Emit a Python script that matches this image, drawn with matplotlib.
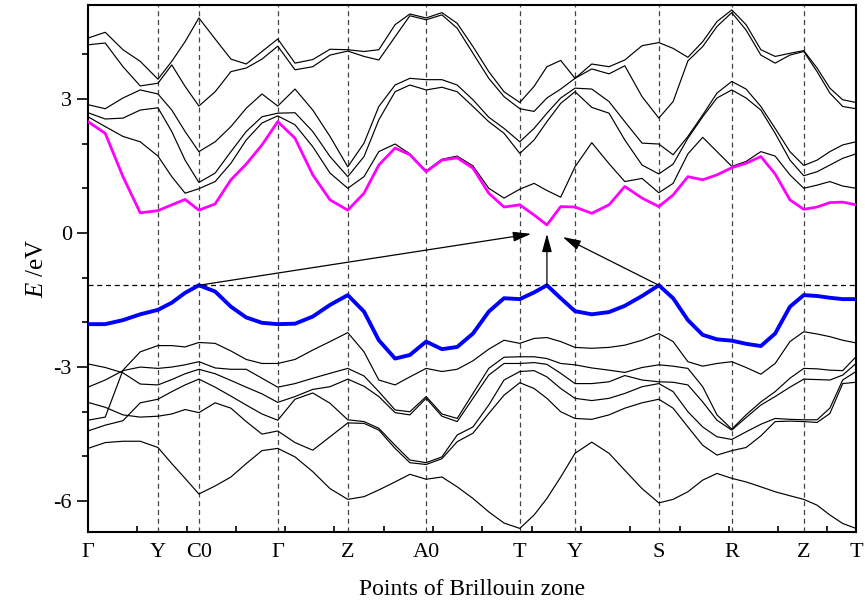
import matplotlib
matplotlib.use("Agg")
from matplotlib import pyplot as plt

plt.rcParams['font.family'] = ['Liberation Serif', 'DejaVu Serif']
plt.rcParams['mathtext.fontset'] = 'custom'
plt.rcParams['mathtext.it'] = 'Liberation Serif:italic'
plt.rcParams['axes.unicode_minus'] = False

# k path (arbitrary path units) and high symmetry points
k = [0.00, 0.35, 0.71, 1.06, 1.42, 1.70, 1.97, 2.25, 2.58, 2.90, 3.21, 3.53, 3.85,
     4.20, 4.56, 4.91, 5.27,
     5.60, 5.90, 6.23, 6.53, 6.86,
     7.18, 7.49, 7.81, 8.13, 8.44, 8.76,
     9.05, 9.31, 9.59, 9.88,
     10.22, 10.57, 10.89, 11.24, 11.58,
     11.87, 12.17, 12.47, 12.76, 13.06,
     13.35, 13.65, 13.94, 14.24, 14.52,
     14.79, 15.05, 15.31, 15.58]
kpts = [0, 1.42, 2.25, 3.85, 5.27, 6.86, 8.76, 9.88, 11.58, 13.06, 14.52, 15.58]
klabels = ['Γ', 'Y', 'C0', 'Γ', 'Z', 'A0', 'T', 'Y', 'S', 'R', 'Z', 'T']
vbm = -1.17

# conduction bands (eV)
cb1 = [2.49, 2.23, 1.26, 0.45, 0.50, 0.63, 0.75, 0.51, 0.65, 1.19, 1.54, 1.97, 2.49,
       2.12, 1.30, 0.74, 0.51,
       0.89, 1.52, 1.90, 1.75, 1.37,
       1.63, 1.68, 1.45, 0.89, 0.58, 0.63,
       0.40, 0.18, 0.59, 0.58,
       0.44, 0.63, 1.04, 0.78, 0.59,
       0.85, 1.26, 1.19, 1.30, 1.46,
       1.56, 1.71, 1.32, 0.74, 0.53,
       0.58, 0.68, 0.69, 0.63]
cb2 = [2.60, 2.38, 2.16, 2.04, 1.72, 1.26, 0.89, 0.99, 1.15, 1.56, 2.08, 2.46, 2.62,
       2.42, 1.93, 1.34, 1.00,
       1.26, 1.82, 1.99, 1.77, 1.39,
       1.65, 1.72, 1.50, 1.00, 0.78, 0.98,
       1.11, 0.95, 0.80, 1.48,
       2.02, 1.55, 1.15, 1.22, 0.90,
       1.11, 1.77, 2.14, 1.82, 1.49,
       1.60, 1.82, 1.72, 1.30, 1.00,
       1.07, 1.15, 1.05, 1.00]
cb3 = [2.69, 2.55, 2.57, 2.75, 2.80, 2.27, 1.63, 1.13, 1.34, 1.82, 2.27, 2.60, 2.68,
       2.69, 2.27, 1.71, 1.26,
       1.71, 2.53, 3.16, 3.31, 3.20,
       3.26, 3.16, 2.83, 2.49, 2.23, 1.78,
       2.08, 2.49, 2.90, 3.16,
       2.81, 2.68, 2.08, 1.52, 1.32,
       1.54, 2.12, 2.60, 3.02, 3.20,
       3.02, 2.75, 2.23, 1.63, 1.28,
       1.37, 1.52, 1.67, 1.77]
cb4 = [2.87, 2.78, 3.02, 3.20, 3.11, 2.75, 2.27, 1.82, 2.04, 2.38, 2.79, 3.11, 2.84,
       3.22, 2.75, 2.16, 1.48,
       2.01, 2.83, 3.31, 3.46, 3.43,
       3.43, 3.31, 2.98, 2.59, 2.34, 2.04,
       2.34, 2.68, 3.02, 3.24,
       3.22, 2.94, 2.49, 2.01, 1.99,
       1.75, 2.16, 2.64, 3.13, 3.39,
       3.22, 2.83, 2.34, 1.82, 1.51,
       1.63, 1.82, 1.97, 2.04]
cb5 = [4.21, 4.25, 3.72, 3.29, 3.35, 3.76, 3.28, 2.84, 3.16, 3.61, 3.69, 3.89, 4.18,
       3.65, 3.72, 3.98, 4.07,
       3.95, 3.87, 4.39, 4.86, 4.77,
       4.88, 4.58, 4.02, 3.46, 3.05, 2.78,
       2.72, 3.02, 3.22, 3.46,
       3.67, 3.56, 3.74, 3.05, 2.57,
       2.94, 3.85, 4.17, 4.62, 4.93,
       4.54, 3.98, 3.80, 3.98, 4.06,
       3.61, 3.13, 2.83, 2.78]
cb6 = [4.36, 4.49, 4.10, 3.84, 3.44, 3.84, 4.28, 4.81, 4.34, 3.89, 3.78, 4.06, 4.34,
       3.80, 3.88, 4.11, 4.10,
       4.06, 4.10, 4.66, 4.90, 4.81,
       4.93, 4.69, 4.17, 3.61, 3.16, 2.92,
       3.28, 3.72, 3.86, 3.46,
       3.78, 3.72, 3.87, 4.19, 4.26,
       4.13, 3.93, 4.28, 4.73, 4.99,
       4.66, 4.10, 3.95, 4.02, 4.08,
       3.69, 3.24, 2.98, 2.92]

# valence bands (eV)
vb1 = [-2.04, -2.04, -1.95, -1.82, -1.72, -1.56, -1.34, -1.17, -1.31, -1.65, -1.89, -2.01, -2.04,
       -2.03, -1.87, -1.61, -1.39,
       -1.76, -2.40, -2.81, -2.73, -2.43,
       -2.60, -2.55, -2.25, -1.76, -1.46, -1.48,
       -1.33, -1.17, -1.46, -1.75,
       -1.82, -1.77, -1.63, -1.41, -1.17,
       -1.46, -1.95, -2.28, -2.38, -2.41,
       -2.48, -2.53, -2.25, -1.65, -1.39,
       -1.41, -1.45, -1.48, -1.48]
vb2 = [-4.19, -4.12, -3.07, -2.66, -2.52, -2.52, -2.55, -2.45, -2.47, -2.64, -2.83, -2.92, -2.92,
       -2.83, -2.62, -2.43, -2.23,
       -2.66, -3.29, -3.40, -3.22, -3.03,
       -3.10, -3.05, -2.86, -2.60, -2.40, -2.47,
       -2.36, -2.34, -2.43, -2.56,
       -2.58, -2.56, -2.51, -2.40, -2.25,
       -2.43, -2.88, -2.98, -2.92, -2.88,
       -3.01, -3.16, -2.92, -2.43, -2.21,
       -2.26, -2.32, -2.40, -2.46]
vb3 = [-3.45, -3.29, -3.08, -3.00, -3.03, -3.00, -2.95, -2.88, -3.02, -3.05, -3.05, -3.25, -3.45,
       -3.37, -3.25, -3.14, -3.03,
       -3.20, -3.55, -3.96, -4.00, -3.66,
       -4.05, -4.15, -3.59, -3.03, -2.78, -2.77,
       -2.77, -2.81, -2.92, -2.95,
       -3.02, -3.07, -3.12, -3.01, -2.95,
       -2.98, -3.03, -3.44, -4.07, -4.39,
       -4.07, -3.78, -3.55, -3.25, -3.03,
       -3.04, -3.07, -3.08, -2.77]
vb4 = [-2.93, -3.01, -3.13, -3.38, -3.40, -3.28, -3.15, -3.05, -3.15, -3.30, -3.45, -3.60, -3.79,
       -3.66, -3.50, -3.44, -3.27,
       -3.43, -3.66, -4.02, -4.07, -3.70,
       -4.10, -4.22, -3.70, -3.18, -2.92, -2.92,
       -2.90, -2.94, -3.14, -3.37,
       -3.37, -3.33, -3.19, -3.29, -3.33,
       -3.34, -3.40, -3.78, -4.19, -4.41,
       -4.13, -3.85, -3.66, -3.45, -3.27,
       -3.28, -3.29, -3.18, -2.92]
vb5 = [-4.43, -4.30, -4.20, -3.80, -3.72, -3.55, -3.40, -3.27, -3.45, -3.65, -3.85, -4.05, -4.19,
       -3.72, -3.58, -3.81, -4.18,
       -4.22, -4.37, -4.75, -5.08, -5.14,
       -5.01, -4.52, -4.34, -3.85, -3.29, -3.10,
       -3.08, -3.22, -3.48, -3.70,
       -3.75, -3.70, -3.59, -3.44, -3.37,
       -3.55, -4.00, -4.34, -4.56, -4.62,
       -4.45, -4.28, -4.15, -4.17, -4.18,
       -4.18, -3.92, -3.29, -3.10]
vb6 = [-3.79, -3.90, -4.07, -4.12, -4.10, -4.05, -3.95, -4.02, -3.80, -3.92, -4.22, -4.50, -4.43,
       -4.69, -4.86, -4.56, -4.25,
       -4.26, -4.41, -4.82, -5.14, -5.18,
       -5.05, -4.67, -4.48, -4.04, -3.63, -3.35,
       -3.48, -3.70, -4.00, -4.15,
       -4.17, -4.07, -3.92, -3.80, -3.72,
       -3.92, -4.34, -4.75, -4.97, -4.87,
       -4.80, -4.54, -4.22, -4.21, -4.22,
       -4.24, -4.04, -3.37, -3.34]
vb7 = [-4.82, -4.69, -4.66, -4.66, -4.80, -5.16, -5.49, -5.84, -5.66, -5.46, -5.16, -4.87, -4.82,
       -5.01, -5.34, -5.72, -5.96,
       -5.90, -5.75, -5.57, -5.40, -5.51,
       -5.46, -5.68, -5.94, -6.24, -6.49, -6.61,
       -6.31, -5.94, -5.46, -4.93,
       -4.68, -4.93, -5.31, -5.72, -6.04,
       -5.96, -5.79, -5.53, -5.38, -5.49,
       -5.57, -5.68, -5.79, -5.88, -5.96,
       -6.09, -6.31, -6.50, -6.61]

# transitions: (start k, start E, end k, end E)
arrows = [(2.25, vbm, 8.99, -0.02),
          (9.31, vbm, 9.31, -0.02),
          (11.58, vbm, 9.63, -0.09)]

fig = plt.figure(figsize=(8.65, 6.05), dpi=100)
ax = fig.add_axes([0.1017, 0.1207, 0.8879, 0.871])

for band in [cb2, cb3, cb4, cb5, cb6, vb2, vb3, vb4, vb5, vb6, vb7]:
	ax.plot(k, band, color='black', lw=0.85, zorder=3)
ax.plot(k, cb1, color='#ff00ff', lw=2.0, zorder=4)
ax.plot(k, vb1, color='#0000ff', lw=2.8, zorder=4)

for kp in kpts[1:-1]:
	ax.axvline(kp, color='#444444', lw=0.9, ls=(0, (4, 3)), zorder=1)
ax.axhline(vbm, color='black', lw=0.9, ls=(0, (4, 3)), zorder=1)

for x0, y0, x1, y1 in arrows:
	ax.annotate('', xy=(x1, y1), xytext=(x0, y0),
		arrowprops=dict(arrowstyle='-|>,head_length=1.1,head_width=0.3',
			color='black', lw=0.9, shrinkA=0, shrinkB=0), zorder=5)

ax.set_xlim(0, kpts[-1])
ax.set_ylim(-6.69, 5.10)

ax.set_xticks(kpts)
ax.set_xticklabels(klabels, fontsize=16)
ax.set_xticks(range(1, 16), minor=True)
ax.tick_params(axis='x', which='major', length=0, pad=8)
ax.tick_params(axis='x', which='minor', direction='in', length=4, width=1.2)

ax.set_yticks([-6, -3, 0, 3])
ax.set_yticks([-5, -4, -2, -1, 1, 2, 4], minor=True)
ax.tick_params(axis='y', which='major', direction='out', length=8, width=1.2, labelsize=16)
ax.tick_params(axis='y', which='minor', direction='out', length=4, width=1.2)
ax.tick_params(right=False, top=False)

for s in ax.spines.values():
	s.set_linewidth(1.5)

ax.set_xlabel('Points of Brillouin zone', fontsize=17, labelpad=12)
ax.set_ylabel('$\\mathit{E}$ /eV', fontsize=18, labelpad=4)

fig.savefig('out.png', dpi=100)
